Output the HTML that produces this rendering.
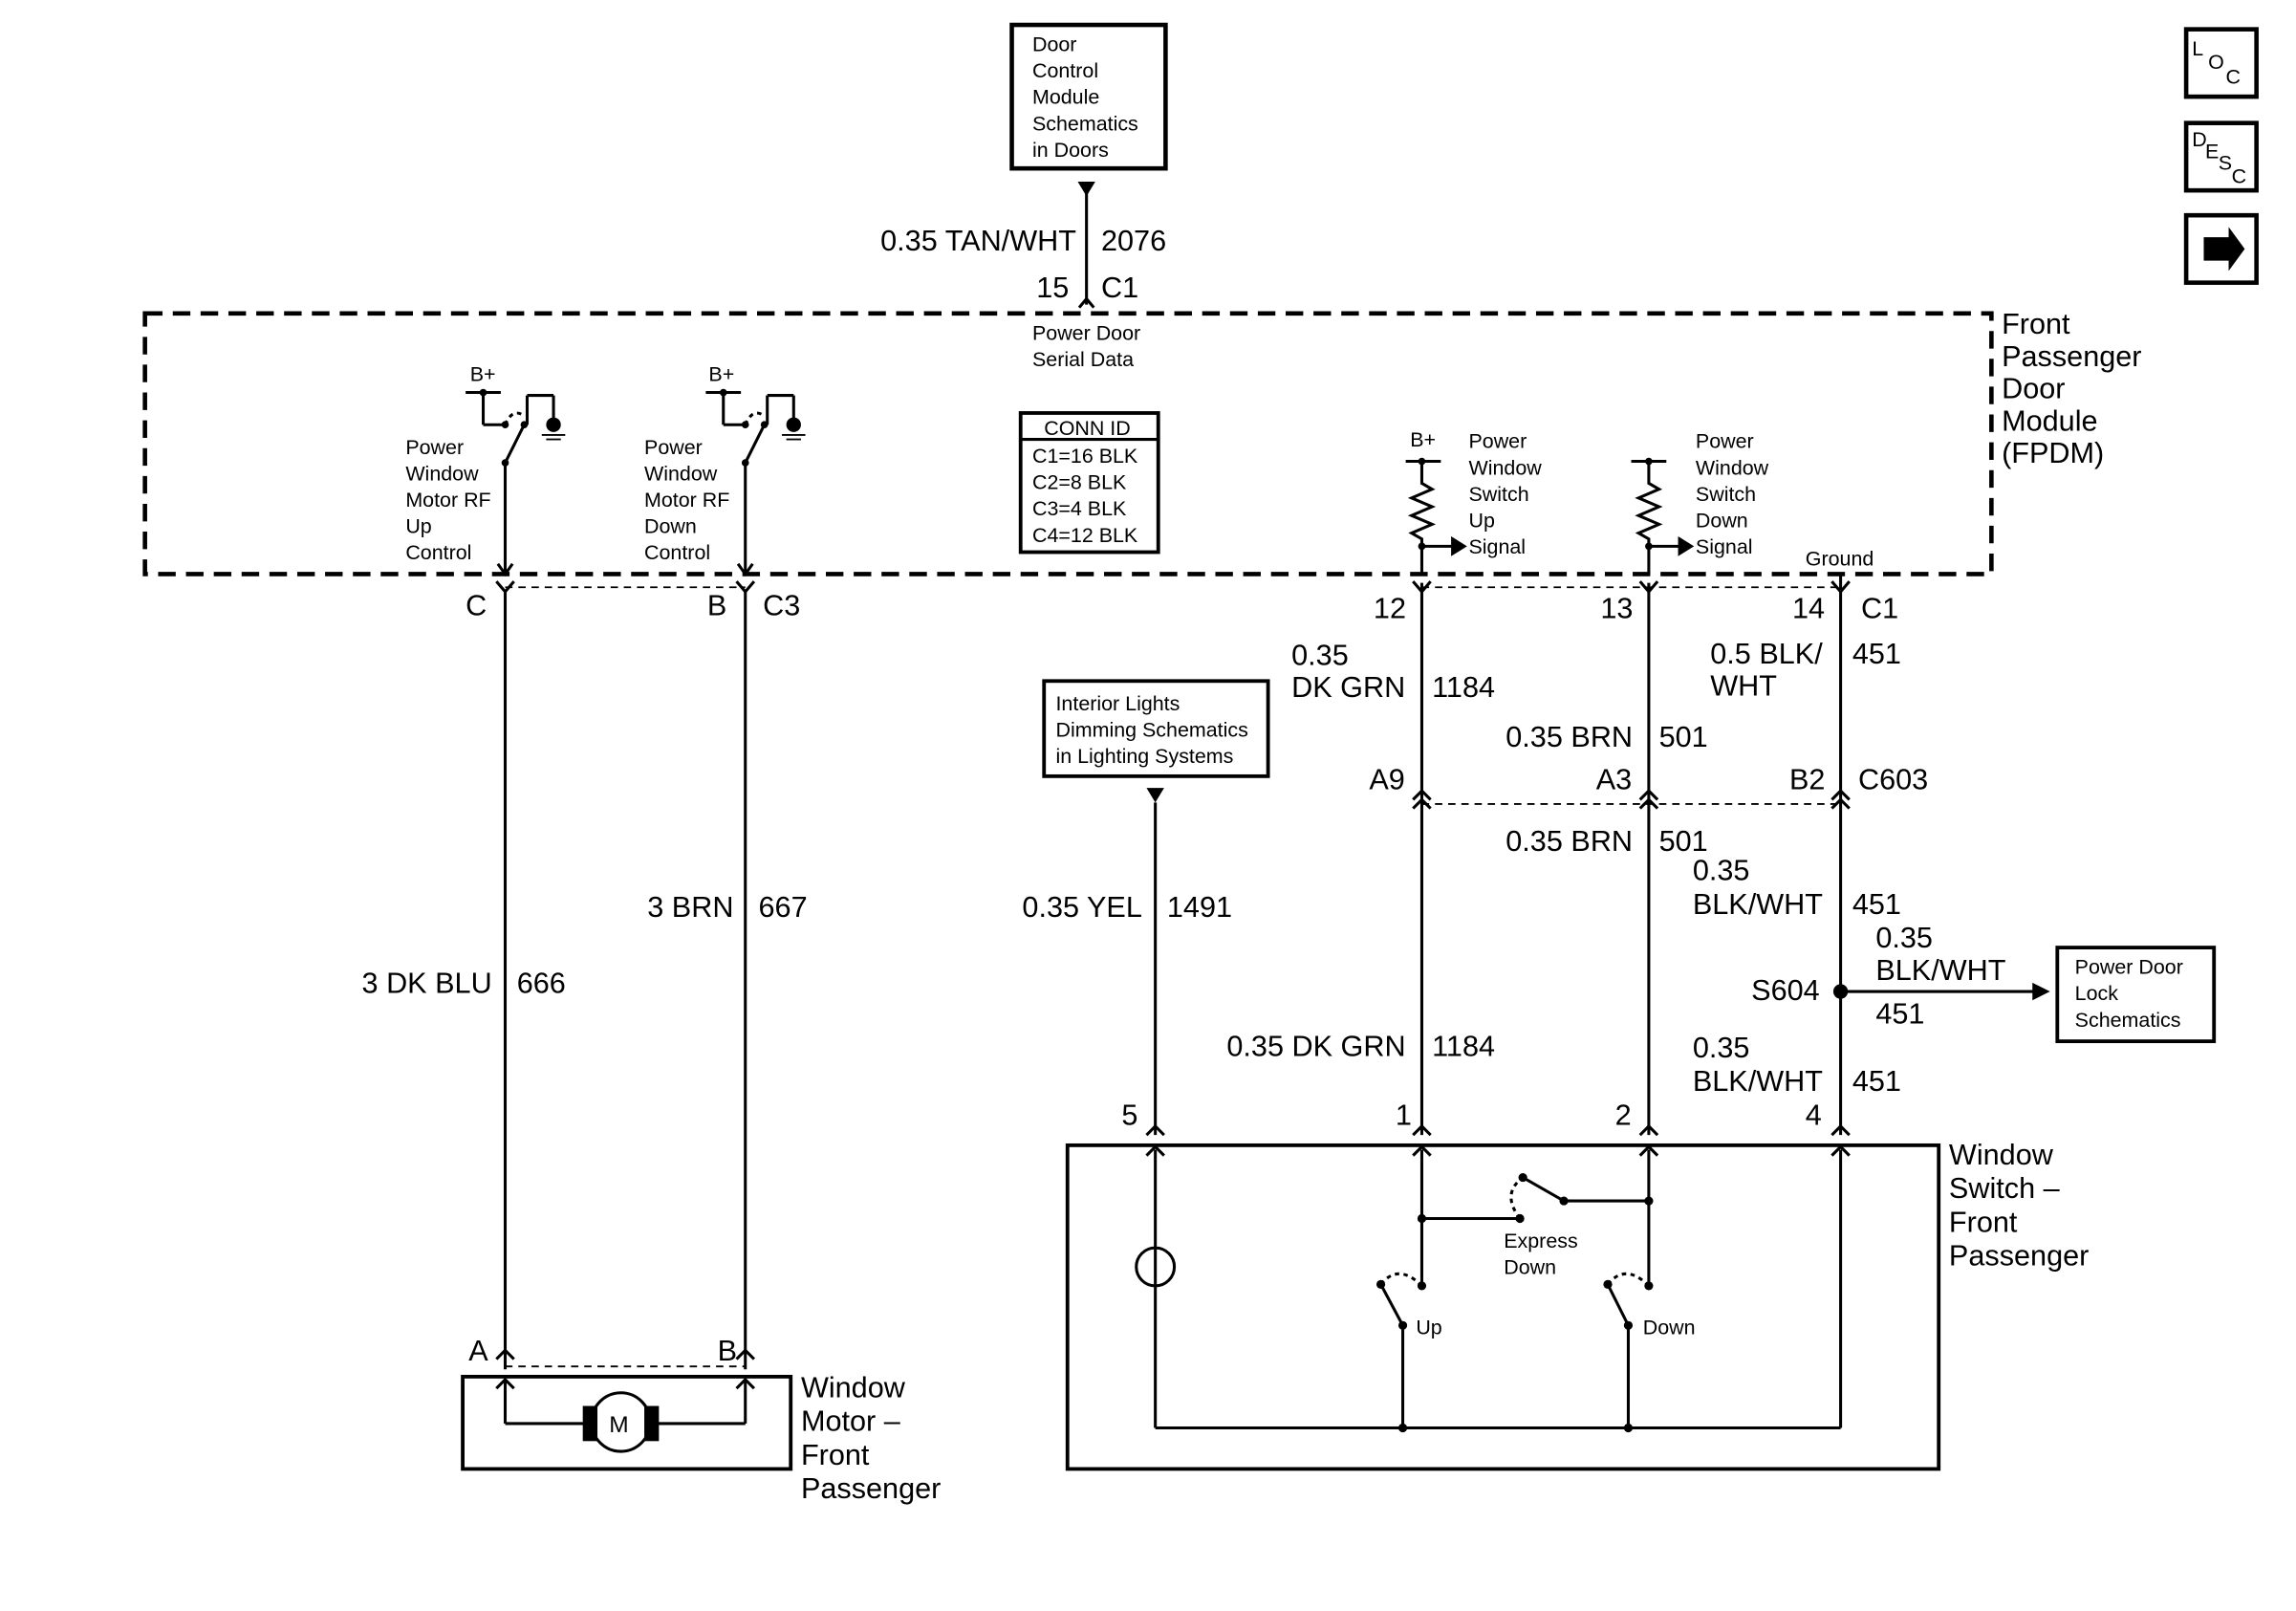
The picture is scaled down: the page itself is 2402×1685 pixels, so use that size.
<!DOCTYPE html>
<html><head><meta charset="utf-8"><style>
html,body{margin:0;padding:0;background:#fff;}
svg{display:block;}
text{font-family:"Liberation Sans",sans-serif;fill:#000;}
.b{font-size:20px;}
.s{font-size:14px;}
</style></head><body>
<svg width="2402" height="1685" viewBox="0 0 1568 1100" preserveAspectRatio="none" xmlns="http://www.w3.org/2000/svg">
<g fill="none" stroke="#000" stroke-width="2">
<rect x="691" y="17" width="105" height="98" stroke-width="3"/>
<line x1="742" y1="125" x2="742" y2="208"/>
<polyline points="737,210 742,204 747,210"/>
<rect x="99" y="214" width="1261" height="178" stroke-width="3" stroke-dasharray="12,7"/>
<rect x="697" y="282" width="94" height="95" stroke-width="2.5"/>
<line x1="697" y1="300" x2="791" y2="300"/>
<line x1="318" y1="268" x2="342" y2="268"/><line x1="330" y1="268" x2="330" y2="290"/>
<line x1="330" y1="290" x2="345" y2="290"/><line x1="345" y1="316" x2="358" y2="290"/>
<path d="M345 290 Q350 278 358 284" stroke-dasharray="3,3"/>
<line x1="360" y1="290" x2="360" y2="270"/><line x1="360" y1="270" x2="378" y2="270"/><line x1="378" y1="270" x2="378" y2="290"/>
<line x1="345" y1="316" x2="345" y2="392"/>
<line x1="482" y1="268" x2="506" y2="268"/><line x1="494" y1="268" x2="494" y2="290"/>
<line x1="494" y1="290" x2="509" y2="290"/><line x1="509" y1="316" x2="522" y2="290"/>
<path d="M509 290 Q514 278 522 284" stroke-dasharray="3,3"/>
<line x1="524" y1="290" x2="524" y2="270"/><line x1="524" y1="270" x2="542" y2="270"/><line x1="542" y1="270" x2="542" y2="290"/>
<line x1="509" y1="316" x2="509" y2="392"/>
<polyline points="340,385 345,392 350,385"/><polyline points="504,385 509,392 514,385"/>
<line x1="960" y1="315" x2="984" y2="315"/>
<polyline points="971,315 971,330 978,334 964,340 978,346 964,352 978,358 964,364 971,368 971,392"/>
<line x1="971" y1="373" x2="992" y2="373"/><polygon points="992,368 1000,373 992,378" fill="#000"/>
<line x1="1114" y1="315" x2="1138" y2="315"/>
<polyline points="1126,315 1126,330 1133,334 1119,340 1133,346 1119,352 1133,358 1119,364 1126,368 1126,392"/>
<line x1="1126" y1="373" x2="1147" y2="373"/><polygon points="1147,368 1155,373 1147,378" fill="#000"/>
<line x1="345" y1="404" x2="345" y2="935"/>
<line x1="509" y1="404" x2="509" y2="935"/>
<line x1="345" y1="401" x2="509" y2="401" stroke-width="1.2" stroke-dasharray="5,4"/>
<polyline points="339,397 345,404 351,397"/><polyline points="503,397 509,404 515,397"/>
<line x1="971" y1="398" x2="971" y2="775"/>
<line x1="1126" y1="398" x2="1126" y2="775"/>
<line x1="1257" y1="392" x2="1257" y2="775"/>
<line x1="971" y1="401" x2="1257" y2="401" stroke-width="1.2" stroke-dasharray="5,4"/>
<line x1="971" y1="549" x2="1257" y2="549" stroke-width="1.2" stroke-dasharray="5,4"/>
<polyline points="965,397 971,404 977,397"/><polyline points="1120,397 1126,404 1132,397"/><polyline points="1251,397 1257,404 1263,397"/>
<polyline points="965,546 971,540 977,546"/><polyline points="1120,546 1126,540 1132,546"/><polyline points="1251,546 1257,540 1263,546"/>
<polyline points="965,552 971,546 977,552"/><polyline points="1120,552 1126,546 1132,552"/><polyline points="1251,552 1257,546 1263,552"/>
<rect x="713" y="465" width="153" height="65" stroke-width="2.5"/>
<line x1="789" y1="548" x2="789" y2="775"/>
<line x1="1257" y1="677" x2="1390" y2="677"/>
<rect x="1405" y="647" width="107" height="64" stroke-width="2.5"/>
<polyline points="783,775 789,769 795,775"/><polyline points="965,775 971,769 977,775"/><polyline points="1120,775 1126,769 1132,775"/><polyline points="1251,775 1257,769 1263,775"/>
<rect x="729" y="782" width="595" height="221" stroke-width="2.5"/>
<polyline points="783,789 789,783 795,789"/><polyline points="965,789 971,783 977,789"/><polyline points="1120,789 1126,783 1132,789"/><polyline points="1251,789 1257,783 1263,789"/>
<line x1="789" y1="785" x2="789" y2="975"/>
<circle cx="789" cy="865" r="13"/>
<line x1="789" y1="975" x2="1257" y2="975"/>
<line x1="1257" y1="785" x2="1257" y2="975"/>
<line x1="971" y1="785" x2="971" y2="832"/>
<line x1="971" y1="832" x2="1038" y2="832"/>
<line x1="1040" y1="804" x2="1068" y2="820"/>
<path d="M1038 832 Q1025 815 1040 804" stroke-dasharray="3,3"/>
<line x1="1068" y1="820" x2="1126" y2="820"/>
<line x1="1126" y1="785" x2="1126" y2="878"/>
<line x1="971" y1="832" x2="971" y2="878"/>
<line x1="943" y1="877" x2="958" y2="905"/><line x1="958" y1="905" x2="958" y2="975"/>
<path d="M943 877 Q955 862 971 878" stroke-dasharray="3,3"/>
<line x1="1098" y1="877" x2="1112" y2="905"/><line x1="1112" y1="905" x2="1112" y2="975"/>
<path d="M1098 877 Q1110 862 1126 878" stroke-dasharray="3,3"/>
<rect x="316" y="940" width="224" height="63" stroke-width="2.5"/>
<line x1="345" y1="933" x2="509" y2="933" stroke-width="1.2" stroke-dasharray="5,4"/>
<polyline points="339,928 345,922 351,928"/><polyline points="503,928 509,922 515,928"/>
<polyline points="339,948 345,942 351,948"/><polyline points="503,948 509,942 515,948"/>
<line x1="345" y1="943" x2="345" y2="972"/><line x1="345" y1="972" x2="400" y2="972"/>
<line x1="448" y1="972" x2="509" y2="972"/><line x1="509" y1="972" x2="509" y2="943"/>
<circle cx="424" cy="971" r="20"/>
<rect x="1493" y="20" width="48" height="46" stroke-width="3"/>
<rect x="1493" y="84" width="48" height="46" stroke-width="3"/>
<rect x="1493" y="147" width="48" height="46" stroke-width="3"/>
</g>
<g fill="#000">
<polygon points="736,124 748,124 742,134"/>
<polygon points="783,538 795,538 789,548"/>
<polygon points="1388,671 1400,677 1388,683"/>
<circle cx="1257" cy="677" r="5"/>
<rect x="398" y="960" width="10" height="24"/><rect x="440" y="960" width="10" height="24"/>
<circle cx="378" cy="290" r="5"/><circle cx="542" cy="290" r="5"/>
<polygon points="1505,162 1522,162 1522,155 1533,170 1522,185 1522,178 1505,178"/>
<g stroke="#000" stroke-width="1.2">
<line x1="370" y1="297" x2="386" y2="297"/><line x1="373" y1="300" x2="383" y2="300"/>
<line x1="534" y1="297" x2="550" y2="297"/><line x1="537" y1="300" x2="547" y2="300"/>
</g>
<g><circle cx="330" cy="268" r="2.5"/><circle cx="345" cy="290" r="2.5"/><circle cx="358" cy="290" r="2.5"/><circle cx="345" cy="316" r="2.5"/>
<circle cx="494" cy="268" r="2.5"/><circle cx="509" cy="290" r="2.5"/><circle cx="522" cy="290" r="2.5"/><circle cx="509" cy="316" r="2.5"/>
<circle cx="971" cy="315" r="2.5"/><circle cx="1126" cy="315" r="2.5"/><circle cx="971" cy="373" r="2.5"/><circle cx="1126" cy="373" r="2.5"/>
<circle cx="971" cy="832" r="3"/><circle cx="1038" cy="832" r="3"/><circle cx="1040" cy="804" r="3"/><circle cx="1068" cy="820" r="3"/><circle cx="1126" cy="820" r="3"/>
<circle cx="971" cy="878" r="3"/><circle cx="943" cy="877" r="3"/><circle cx="958" cy="905" r="3"/><circle cx="958" cy="975" r="3"/>
<circle cx="1126" cy="878" r="3"/><circle cx="1098" cy="877" r="3"/><circle cx="1112" cy="905" r="3"/><circle cx="1112" cy="975" r="3"/></g>
</g>
<g class="s">
<text x="705" y="35">Door</text><text x="705" y="53">Control</text><text x="705" y="71">Module</text><text x="705" y="89">Schematics</text><text x="705" y="107">in Doors</text>
<text x="705" y="232">Power Door</text><text x="705" y="250">Serial Data</text>
<text x="713" y="297">CONN ID</text><text x="705" y="316">C1=16 BLK</text><text x="705" y="334">C2=8 BLK</text><text x="705" y="352">C3=4 BLK</text><text x="705" y="370">C4=12 BLK</text>
<text x="321" y="260">B+</text><text x="484" y="260">B+</text>
<text x="277" y="310">Power</text><text x="277" y="328">Window</text><text x="277" y="346">Motor RF</text><text x="277" y="364">Up</text><text x="277" y="382">Control</text>
<text x="440" y="310">Power</text><text x="440" y="328">Window</text><text x="440" y="346">Motor RF</text><text x="440" y="364">Down</text><text x="440" y="382">Control</text>
<text x="963" y="305">B+</text>
<text x="1003" y="306">Power</text><text x="1003" y="324">Window</text><text x="1003" y="342">Switch</text><text x="1003" y="360">Up</text><text x="1003" y="378">Signal</text>
<text x="1158" y="306">Power</text><text x="1158" y="324">Window</text><text x="1158" y="342">Switch</text><text x="1158" y="360">Down</text><text x="1158" y="378">Signal</text>
<text x="1233" y="386">Ground</text>
<text x="721" y="485">Interior Lights</text><text x="721" y="503">Dimming Schematics</text><text x="721" y="521">in Lighting Systems</text>
<text x="1417" y="665">Power Door</text><text x="1417" y="683">Lock</text><text x="1417" y="701">Schematics</text>
<text x="1027" y="852">Express</text><text x="1027" y="870">Down</text>
<text x="967" y="911">Up</text><text x="1122" y="911">Down</text>
<text x="416" y="978" style="font-size:16px">M</text>
<text x="1497" y="38">L</text><text x="1508" y="47">O</text><text x="1520" y="57">C</text>
<text x="1497" y="100">D</text><text x="1506" y="108">E</text><text x="1515" y="116">S</text><text x="1524" y="125">C</text>
</g>
<g class="b">
<text x="735" y="171" text-anchor="end">0.35 TAN/WHT</text><text x="752" y="171">2076</text>
<text x="730" y="203" text-anchor="end">15</text><text x="752" y="203">C1</text>
<text x="1367" y="228">Front</text><text x="1367" y="250">Passenger</text><text x="1367" y="272">Door</text><text x="1367" y="294">Module</text><text x="1367" y="316">(FPDM)</text>
<text x="318" y="420">C</text><text x="483" y="420">B</text><text x="521" y="420">C3</text>
<text x="938" y="422">12</text><text x="1093" y="422">13</text><text x="1224" y="422">14</text><text x="1271" y="422">C1</text>
<text x="882" y="454">0.35</text><text x="882" y="476">DK GRN</text><text x="978" y="476">1184</text>
<text x="1168" y="453">0.5 BLK/</text><text x="1168" y="475">WHT</text><text x="1265" y="453">451</text>
<text x="1115" y="510" text-anchor="end">0.35 BRN</text><text x="1133" y="510">501</text>
<text x="935" y="539">A9</text><text x="1090" y="539">A3</text><text x="1222" y="539">B2</text><text x="1269" y="539">C603</text>
<text x="1115" y="581" text-anchor="end">0.35 BRN</text><text x="1133" y="581">501</text>
<text x="1156" y="601">0.35</text><text x="1156" y="624">BLK/WHT</text><text x="1265" y="624">451</text>
<text x="1281" y="647">0.35</text><text x="1281" y="669">BLK/WHT</text><text x="1281" y="699">451</text>
<text x="1196" y="683">S604</text>
<text x="336" y="678" text-anchor="end">3 DK BLU</text><text x="353" y="678">666</text>
<text x="501" y="626" text-anchor="end">3 BRN</text><text x="518" y="626">667</text>
<text x="780" y="626" text-anchor="end">0.35 YEL</text><text x="797" y="626">1491</text>
<text x="960" y="721" text-anchor="end">0.35 DK GRN</text><text x="978" y="721">1184</text>
<text x="1156" y="722">0.35</text><text x="1156" y="745">BLK/WHT</text><text x="1265" y="745">451</text>
<text x="766" y="768">5</text><text x="953" y="768">1</text><text x="1103" y="768">2</text><text x="1233" y="768">4</text>
<text x="1331" y="795">Window</text><text x="1331" y="818">Switch –</text><text x="1331" y="841">Front</text><text x="1331" y="864">Passenger</text>
<text x="320" y="929">A</text><text x="490" y="929">B</text>
<text x="547" y="954">Window</text><text x="547" y="977">Motor –</text><text x="547" y="1000">Front</text><text x="547" y="1023">Passenger</text>
</g>
</svg>
</body></html>
